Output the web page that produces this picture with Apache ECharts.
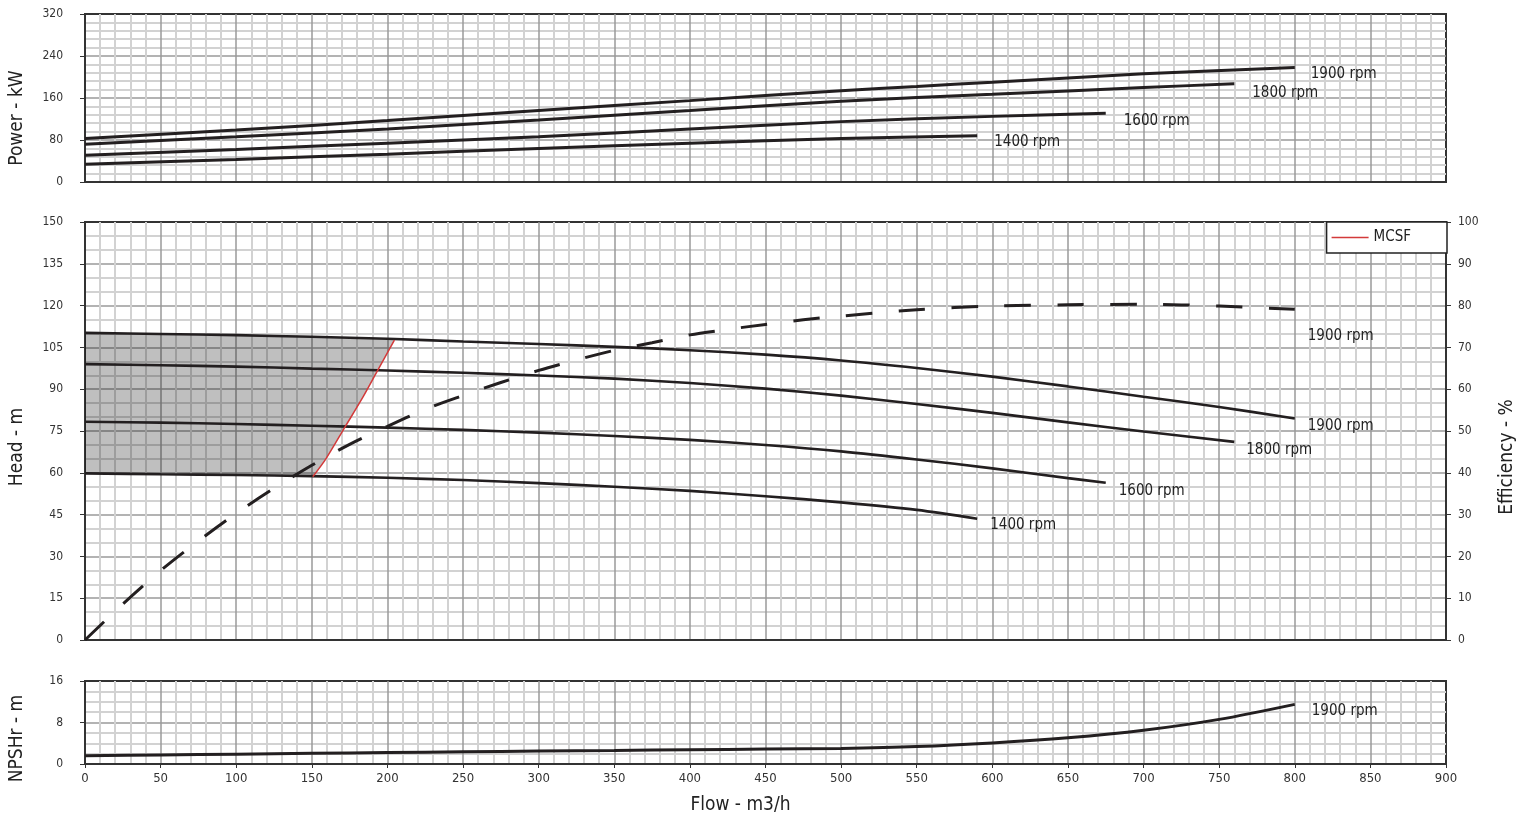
<!DOCTYPE html>
<html>
<head>
<meta charset="utf-8">
<script src="https://cdn.jsdelivr.net/npm/echarts@6/dist/echarts.min.js"></script>
<style>html,body{margin:0;padding:0;background:#fff}#c{width:1526px;height:821px}</style>
</head>
<body>
<div id="c"></div>
<script>
// ---------- DATA (flow m3/h, value) ----------
const power1900 = [[0,83],[100,99],[200,117],[300,136],[400,155],[500,174],[550,182],[600,190],[700,206],[800,218]];
const power1800 = [[0,72],[100,86],[200,101],[300,118],[400,136],[500,154],[600,167],[700,180],[760,187]];
const power1600 = [[0,51],[100,62],[200,74],[300,86],[400,101],[500,115],[600,125],[675,131]];
const power1400 = [[0,34],[100,43],[200,53],[300,64],[400,74],[500,83],[590,88]];

const head1900 = [[0,110.2],[50,109.8],[100,109.4],[150,108.8],[200,108.1],[250,107.1],[300,106.2],[350,105.2],[400,104.0],[450,102.4],[500,100.3],[550,97.6],[600,94.5],[650,91.0],[700,87.3],[750,83.6],[800,79.5]];
const head1800 = [[0,99.0],[50,98.6],[100,98.1],[150,97.4],[200,96.7],[250,95.9],[300,94.9],[350,93.8],[400,92.2],[450,90.2],[500,87.7],[550,84.7],[600,81.5],[650,78.1],[700,74.8],[760,71.1]];
const head1600 = [[0,78.3],[50,78.0],[100,77.5],[150,76.9],[200,76.2],[250,75.4],[300,74.4],[350,73.2],[400,71.8],[450,70.0],[500,67.7],[550,64.8],[600,61.6],[650,58.1],[675,56.4]];
const head1400 = [[0,59.8],[50,59.5],[100,59.2],[150,58.8],[200,58.2],[250,57.4],[300,56.3],[350,55.0],[400,53.5],[450,51.6],[500,49.4],[550,46.7],[590,43.5]];

const mcsf = [[150.6,58.6],[159.4,65.1],[172,76.5],[183,86.4],[193,96.2],[204.6,107.6]];

const efficiency1900 = [[0,0],[25,8.6],[50,16.6],[75,23.7],[100,30.3],[125,36.3],[150,41.8],[175,46.8],[200,51.1],[225,55.2],[250,58.5],[275,61.6],[300,64.5],[325,67.0],[350,69.3],[375,71.1],[400,73.0],[425,74.3],[450,75.5],[475,76.6],[500,77.5],[550,79.0],[600,79.9],[650,80.2],[700,80.3],[750,79.9],[800,79.1]];

const npsh1900 = [[0,1.6],[50,1.75],[100,1.9],[150,2.05],[200,2.2],[250,2.35],[300,2.5],[350,2.62],[400,2.75],[450,2.87],[500,3.0],[550,3.35],[600,4.05],[650,5.05],[700,6.5],[750,8.6],[800,11.5]];

const rpmLabels = ['1900 rpm','1800 rpm','1600 rpm','1400 rpm'];
const flowRange = [0, 900, 50];
const powerRange = [0, 320, 80];
const headRange = [0, 150, 15];
const effRange = [0, 100, 10];
const npshRange = [0, 16, 8];

// ---------- STYLE ----------
const FONT = "'Liberation Sans Narrow','DejaVu Sans Condensed','Roboto Condensed',sans-serif";
const INK = '#231f20';
const MAJOR = { color: '#9a9a9a', width: 1.5 };
const MINOR = { color: '#d2d2d2', width: 2 };

function xAxisFor(gi, showLabels) {
  return {
    type: 'value', gridIndex: gi, min: flowRange[0], max: flowRange[1], interval: flowRange[2],
    name: showLabels ? 'Flow - m3/h' : '', nameLocation: 'middle', nameGap: 32,
    nameTextStyle: { fontFamily: FONT, fontSize: 19, color: '#222', padding: [0, 50, 0, 0] },
    axisLine: { show: true, onZero: false, lineStyle: { color: '#333', width: 2 } },
    axisTick: { show: showLabels, length: 4, lineStyle: { color: '#333', width: 1 } },
    axisLabel: { show: showLabels, margin: 8, color: '#333', fontFamily: FONT, fontSize: 13 },
    splitLine: { show: true, showMinLine: false, showMaxLine: false, lineStyle: MAJOR },
    minorTick: { show: false, splitNumber: 5 },
    minorSplitLine: { show: true, lineStyle: MINOR }
  };
}
function yAxisFor(gi, range, minorSplit, name, pad) {
  return {
    type: 'value', gridIndex: gi, min: range[0], max: range[1], interval: range[2],
    name: name, nameLocation: 'middle', nameGap: 58, nameRotate: 90,
    nameTextStyle: { fontFamily: FONT, fontSize: 19, color: '#222', padding: [0, pad, 0, 0] },
    axisLine: { show: true, onZero: false, lineStyle: { color: '#333', width: 2 } },
    axisTick: { show: true, length: 5, lineStyle: { color: '#333', width: 1 } },
    axisLabel: { margin: 22, color: '#333', fontFamily: FONT, fontSize: 12 },
    splitLine: { show: true, showMinLine: false, showMaxLine: false, lineStyle: MAJOR },
    minorTick: { show: false, splitNumber: minorSplit },
    minorSplitLine: { show: true, lineStyle: MINOR }
  };
}
function curve(name, data, xi, yi, label, offset, extra) {
  return Object.assign({
    name: name, type: 'line', data: data, xAxisIndex: xi, yAxisIndex: yi,
    smooth: 0.3, symbol: 'none', z: 5,
    lineStyle: { color: INK, width: 3 },
    endLabel: { show: !!label, formatter: label, offset: offset, color: '#222', fontFamily: FONT, fontSize: 15 }
  }, extra || {});
}

// shaded operating region: top = 1900 curve, right = MCSF, bottom = 1400 curve
const shadePoly = head1900.filter(p => p[0] < mcsf[mcsf.length - 1][0])
  .concat(mcsf.slice().reverse())
  .concat(head1400.filter(p => p[0] < mcsf[0][0]).reverse());

const chart = echarts.init(document.getElementById('c'), null, { renderer: 'canvas' });
const grids = [
  { left: 85, right: 80, top: 14, height: 168 },
  { left: 85, right: 80, top: 222, height: 418 },
  { left: 85, right: 80, top: 681, height: 83 }
].map(g => Object.assign(g, { show: true, borderColor: '#333', borderWidth: 2, backgroundColor: 'transparent' }));

const effAxis = {
  type: 'value', gridIndex: 1, position: 'right', min: effRange[0], max: effRange[1], interval: effRange[2],
  name: 'Efficiency - %', nameLocation: 'middle', nameGap: 52, nameRotate: 90,
  nameTextStyle: { fontFamily: FONT, fontSize: 19, color: '#222', padding: [0, 52, 0, 0] },
  axisLine: { show: true, onZero: false, lineStyle: { color: '#333', width: 2 } },
  axisTick: { show: true, length: 5, lineStyle: { color: '#333', width: 1 } },
  axisLabel: { margin: 12, color: '#333', fontFamily: FONT, fontSize: 12 },
  splitLine: { show: false }, minorSplitLine: { show: false }
};

chart.setOption({
  animation: false,
  backgroundColor: '#fff',
  grid: grids,
  legend: {
    data: [{ name: 'MCSF', icon: 'rect' }], right: 79, top: 222, orient: 'vertical',
    backgroundColor: '#fff', borderColor: '#222', borderWidth: 1.5,
    padding: [8, 36, 8, 5], itemWidth: 37, itemHeight: 1.5, itemGap: 4,
    textStyle: { fontFamily: FONT, fontSize: 15, color: '#222' }
  },
  xAxis: [xAxisFor(0, false), xAxisFor(1, false), xAxisFor(2, true)],
  yAxis: [
    yAxisFor(0, powerRange, 5, 'Power - kW', 40),
    yAxisFor(1, headRange, 3, 'Head - m', 32),
    effAxis,
    yAxisFor(2, npshRange, 4, 'NPSHr - m', 32)
  ],
  series: [
    curve('p1900', power1900, 0, 0, rpmLabels[0], [8, 7]),
    curve('p1800', power1800, 0, 0, rpmLabels[1], [10, 9]),
    curve('p1600', power1600, 0, 0, rpmLabels[2], [10, 8]),
    curve('p1400', power1400, 0, 0, rpmLabels[3], [9, 6]),
    {
      name: 'shade', type: 'custom', xAxisIndex: 1, yAxisIndex: 1, z: 1, data: [[0, 0]],
      renderItem: function (params, api) {
        return { type: 'polygon', shape: { points: shadePoly.map(p => api.coord(p)) },
                 style: { fill: 'rgba(0,0,0,0.25)' } };
      }
    },
    curve('h1900', head1900, 1, 1, rpmLabels[0], [5, 8], { lineStyle: { color: INK, width: 2.6 } }),
    curve('h1800', head1800, 1, 1, rpmLabels[1], [4, 8], { lineStyle: { color: INK, width: 2.6 } }),
    curve('h1600', head1600, 1, 1, rpmLabels[2], [5, 8], { lineStyle: { color: INK, width: 2.6 } }),
    curve('h1400', head1400, 1, 1, rpmLabels[3], [5, 6], { lineStyle: { color: INK, width: 2.6 } }),
    { name: 'MCSF', type: 'line', data: mcsf, xAxisIndex: 1, yAxisIndex: 1, smooth: 0.3, symbol: 'none', z: 6,
      lineStyle: { color: '#d33a3a', width: 1.5 }, itemStyle: { color: '#d33a3a' } },
    curve('eff', efficiency1900, 1, 2, rpmLabels[0], [5, 27], { lineStyle: { color: INK, width: 3, type: [26.45, 26.45] } }),
    curve('npsh', npsh1900, 2, 3, rpmLabels[0], [9, 7], { lineStyle: { color: INK, width: 3 } })
  ]
});
</script>
</body>
</html>
